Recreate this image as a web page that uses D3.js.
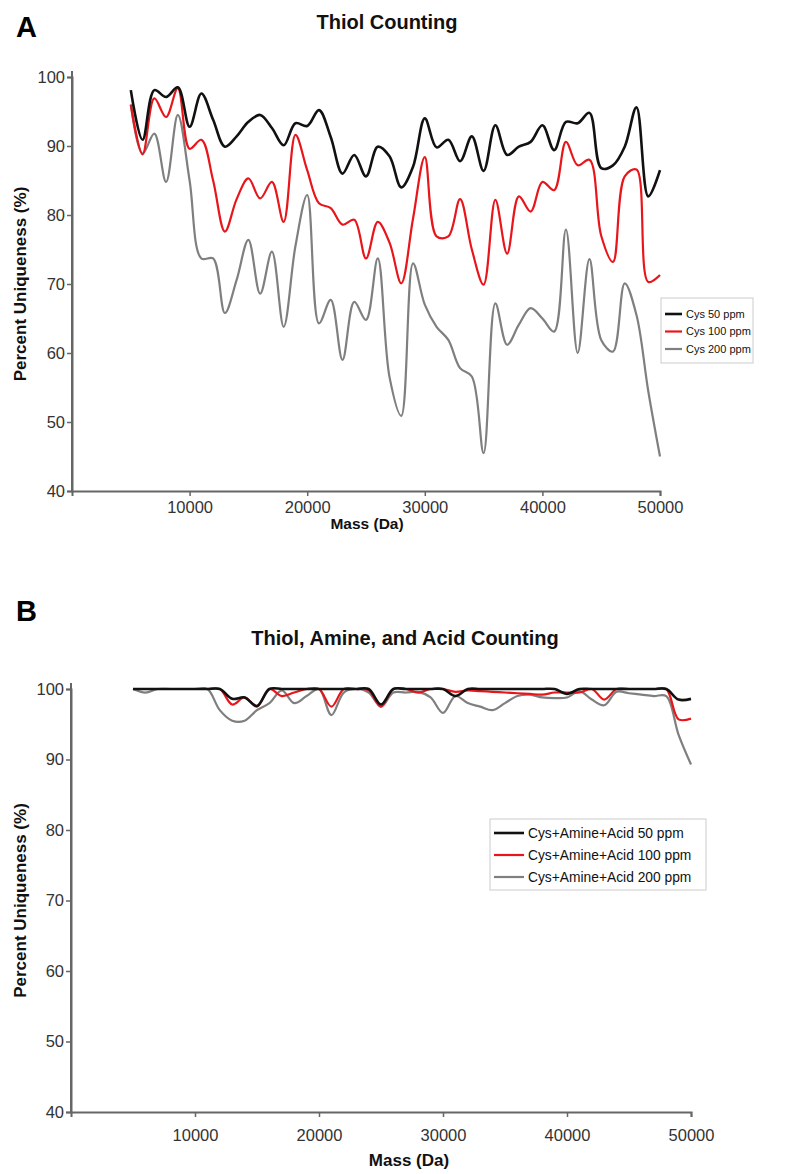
<!DOCTYPE html>
<html><head><meta charset="utf-8">
<script src="https://cdn.jsdelivr.net/npm/d3@7"></script>
<style>
html,body{margin:0;padding:0;background:#fff;}
text{font-family:"Liberation Sans",Arial,Helvetica,sans-serif;}
</style></head>
<body>
<svg id="chart" width="796" height="1174"></svg>
<script>
// ---------- DATA ----------
const masses = d3.range(5000, 50001, 1000);
const xTicks = [10000, 20000, 30000, 40000, 50000];
const yTicks = [40, 50, 60, 70, 80, 90, 100];

// Panel A: Thiol counting
const cys50 = [98.1,90.9,98.1,97.1,98.5,92.8,97.6,93.8,89.9,91.4,93.5,94.5,92.6,90.1,93.3,92.9,95.2,91.3,86.0,88.7,85.6,89.9,88.5,84.0,87.0,94.0,89.8,90.9,87.8,91.4,86.4,93.0,88.7,89.9,90.6,93.0,89.4,93.5,93.3,94.8,86.8,87.2,89.9,95.6,82.7,86.5];
const cys100 = [96.0,88.8,96.9,94.2,98.4,89.6,90.9,85.0,77.6,82.3,85.3,82.4,84.8,79.0,91.6,86.5,81.7,81.0,78.6,79.3,73.7,79.0,76.0,70.1,79.5,88.4,76.9,76.9,82.3,75.0,69.9,82.2,74.4,82.7,80.5,84.8,83.6,90.6,87.2,88.0,77.0,73.2,85.6,86.6,70.3,71.3];
const cys200 = [96.0,88.9,91.8,84.8,94.5,85.0,73.7,73.7,65.8,70.6,76.4,68.6,74.7,63.8,75.5,82.9,64.3,67.7,59.0,67.4,64.8,73.7,56.5,50.9,73.0,67.0,63.8,61.9,57.8,56.6,45.5,67.2,61.2,64.1,66.5,65.0,63.1,77.9,60.0,73.6,61.9,60.2,70.1,65.5,54.5,45.0];

// Panel B: Thiol, amine and acid counting
const all50 = [100,100,100,100,100,100,100,100,98.6,98.8,97.6,100,100,100,100,100,100,100,100,100,97.8,100,100,100,100,100,99.0,100,100,100,100,100,100,100,100,99.3,100,100,100,100,100,100,100,100,98.5,98.6];
const all100 = [100,100,100,100,100,100,100,100,97.8,98.8,97.5,100,99.0,99.5,100,100,97.5,100,100,99.8,97.5,100,100,99.5,100,100,99.6,99.8,99.7,99.6,99.5,99.4,99.3,99.2,99.5,99.5,99.5,100,98.5,100,100,100,100,100,95.7,95.8];
const all200 = [100,99.5,100,100,100,100,100,97.0,95.5,95.5,97.0,98.0,99.8,98.0,99.0,100,96.3,99.5,100,99.5,97.5,99.5,99.5,99.6,98.8,96.6,99.0,98.0,97.5,97.0,98.0,99.0,99.2,98.8,98.7,98.8,99.7,98.5,97.7,99.6,99.4,99.2,99.0,99.0,93.5,89.3];

const seriesNamesA = ["Cys 50 ppm", "Cys 100 ppm", "Cys 200 ppm"];
const seriesNamesB = ["Cys+Amine+Acid 50 ppm", "Cys+Amine+Acid 100 ppm", "Cys+Amine+Acid 200 ppm"];
const colors = ["#111111", "#e8161b", "#7f7f7f"];
const widths = [2.6, 2.2, 2.2];

// ---------- DRAW ----------
const svg = d3.select("#chart");

function panel(cfg) {
  const g = svg.append("g");
  const x = d3.scaleLinear().domain([0, 50000]).range([cfg.x0, cfg.x1]);
  const y = d3.scaleLinear().domain([40, 100]).range([cfg.y0, cfg.y1]);

  // panel letter & title
  g.append("text").attr("x", 16).attr("y", cfg.letterY).attr("font-size", 29).attr("font-weight", "bold").text(cfg.letter);
  g.append("text").attr("x", cfg.titleX).attr("y", cfg.titleY).attr("text-anchor", "middle")
    .attr("font-size", 20).attr("font-weight", "bold").attr("fill", "#111").text(cfg.title);

  // axes
  const ya = g.append("g").attr("transform", `translate(${cfg.x0},0)`)
    .call(d3.axisLeft(y).tickValues(yTicks).tickSize(5).tickPadding(2).tickFormat(d3.format("d")));
  const xa = g.append("g").attr("transform", `translate(0,${cfg.y0})`)
    .call(d3.axisBottom(x).tickValues(xTicks).tickSize(5).tickPadding(cfg.xPad).tickFormat(d3.format("d")));
  [ya, xa].forEach(a => {
    a.selectAll("text").attr("font-size", 16.5).attr("fill", "#333").attr("font-family", "Liberation Sans, Arial, sans-serif");
    a.selectAll("line").attr("stroke", "#666").attr("stroke-width", 1.5);
    a.select(".domain").attr("stroke", "#666").attr("stroke-width", 2);
  });
  // extend y axis slightly above top tick
  g.append("line").attr("x1", cfg.x0).attr("x2", cfg.x0).attr("y1", cfg.y1 - 6).attr("y2", cfg.y0)
    .attr("stroke", "#666").attr("stroke-width", 2);

  // axis titles
  g.append("text").attr("transform", `translate(${cfg.ylabX},${(cfg.y0 + cfg.y1) / 2}) rotate(-90)`)
    .attr("text-anchor", "middle").attr("font-size", 17).attr("font-weight", "bold").attr("fill", "#111")
    .text("Percent Uniqueness (%)");
  g.append("text").attr("x", cfg.xlabX).attr("y", cfg.xlabY).attr("text-anchor", "middle")
    .attr("font-size", cfg.xlabFs).attr("font-weight", "bold").attr("fill", "#111").text("Mass (Da)");

  // lines
  const line = d3.line().x((d, i) => x(masses[i])).y(d => y(d)).curve(d3.curveCatmullRom.alpha(0.5));
  cfg.series.slice().reverse().forEach((s, ri) => {
    const i = cfg.series.length - 1 - ri;
    g.append("path").datum(s).attr("fill", "none").attr("stroke", colors[i])
      .attr("stroke-width", widths[i]).attr("stroke-linejoin", "round").attr("d", line);
  });

  // legend
  const L = cfg.legend;
  const lg = g.append("g").attr("transform", `translate(${L.x},${L.y})`);
  lg.append("rect").attr("width", L.w).attr("height", L.h).attr("fill", "#fff").attr("stroke", "#ccc").attr("stroke-width", 1);
  cfg.names.forEach((n, i) => {
    const yy = L.pad + i * L.step;
    lg.append("line").attr("x1", 4).attr("x2", 4 + L.lineW).attr("y1", yy).attr("y2", yy)
      .attr("stroke", colors[i]).attr("stroke-width", widths[i]);
    lg.append("text").attr("x", 8 + L.lineW).attr("y", yy).attr("dy", "0.35em").attr("font-size", L.fs).attr("fill", "#111").text(n);
  });
}

panel({
  letter: "A", letterY: 37, title: "Thiol Counting", titleX: 387, titleY: 29,
  x0: 72, x1: 660, y0: 491, y1: 77, xPad: 5, ylabX: 26, xlabX: 367, xlabY: 529, xlabFs: 15.5,
  series: [cys50, cys100, cys200], names: seriesNamesA,
  legend: {x: 661, y: 298, w: 92, h: 65, pad: 16, step: 17.5, lineW: 17, fs: 11}
});

panel({
  letter: "B", letterY: 621, title: "Thiol, Amine, and Acid Counting", titleX: 405, titleY: 645,
  x0: 71, x1: 691, y0: 1112, y1: 689, xPad: 12, ylabX: 26, xlabX: 409, xlabY: 1166, xlabFs: 17,
  series: [all50, all100, all200], names: seriesNamesB,
  legend: {x: 490, y: 819, w: 216, h: 71, pad: 14, step: 22, lineW: 30, fs: 13.8}
});
</script>
</body></html>
